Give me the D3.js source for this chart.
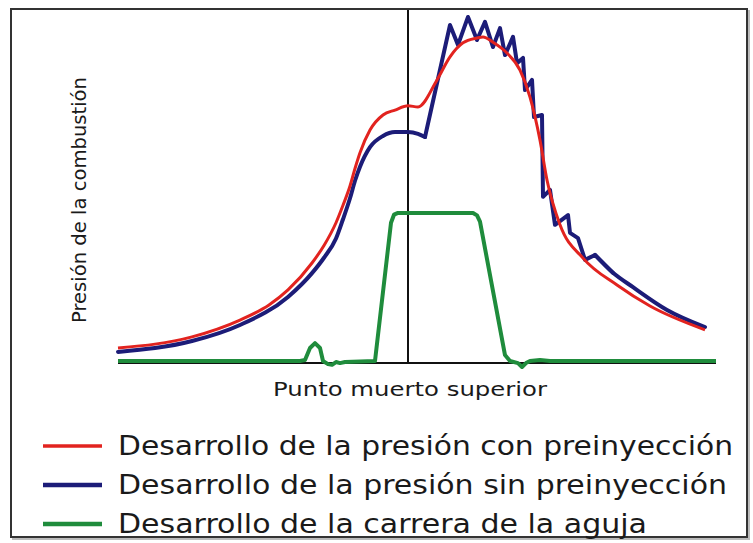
<!DOCTYPE html>
<html>
<head>
<meta charset="utf-8">
<script src="https://d3js.org/d3.v7.min.js"></script>
<style>
  body { margin: 0; background: #fff; }
  svg { display: block; }
  text { font-family: "DejaVu Sans", Verdana, sans-serif; fill: #1a1a1a; }
</style>
</head>
<body>
<div id="cont"></div>
<script>
// crank angle (deg, 0 = punto muerto superior) and relative values (0-100)
var anguloCon = [-58, -43.2, -33.6, -27.8, -24, -19.2, -16.8, -14.4, -13, -11.6, -10.6, -9.6, -7.6, -5, -2.6, 0, 2, 5.8, 8.4, 11, 13.8, 15, 17, 19.8, 22.4, 24.4, 26.4, 27.8, 30.4, 35, 41.8, 48.4, 59.4];
var presionCon = [3.7, 6.9, 11.7, 16, 20.3, 28, 33, 39.5, 44.5, 50, 55, 59.5, 66, 70.3, 71.7, 72.9, 72.6, 80.3, 86.9, 90.9, 92.3, 92.6, 91.1, 88, 83.1, 75.4, 63.1, 51.7, 38.9, 29.4, 21.7, 15.7, 8.9];

var anguloSin = [-58, -43.2, -33.6, -24, -19.2, -16.8, -14.4, -13, -11.6, -10.6, -9.6, -7.6, -5, -2.6, 0, 2, 3.4, 8.4, 10, 12, 13.8, 15.4, 17, 18.4, 19.4, 21, 21.8, 23, 23.4, 24.8, 25.2, 26.8, 27, 28.4, 29.4, 32, 32.4, 34, 35.4, 37.4, 41, 45, 51.8, 59.4];
var presionSin = [2.6, 5.7, 10.3, 18.3, 25.1, 29.5, 35, 40.5, 46.5, 51.5, 55.5, 61.1, 64.3, 65.4, 65.4, 64.9, 64, 96, 90.3, 98.3, 91.7, 96.9, 89.7, 95.1, 87.4, 92.6, 85.1, 86.6, 77.4, 80.3, 69.7, 70.3, 46.9, 48.9, 38.9, 41.7, 36.6, 35.1, 28.9, 30.3, 25.2, 21.1, 14.6, 9.7];
var finSuaveSin = 16; // index where the smooth part of the "sin" curve ends

var anguloAguja = [-58, -21.6, -20.6, -19.6, -18.6, -17.6, -17, -16, -15.2, -14.4, -13.6, -12.6, -6.6, -3.4, -2.8, -2, 13, 13.8, 14.4, 19.4, 20.4, 22, 22.8, 23.6, 24.4, 26.4, 28.4, 61.6];
var carrera = [0, 0, 0.3, 3.7, 5.1, 3.7, 0, -0.9, -1.1, -0.3, -0.6, -0.3, 0, 39.5, 41.8, 42.3, 42.3, 41.6, 39.8, 1.7, 0, -0.6, -1.7, -0.6, 0, 0.3, 0, 0];

var leyenda = [
  "Desarrollo de la presión con preinyección",
  "Desarrollo de la presión sin preinyección",
  "Desarrollo de la carrera de la aguja"
];
var colores = ["#e2231f", "#1c1c78", "#1f8c3c"];

var width = 753, height = 543;

var svg = d3.select("#cont").append("svg")
  .attr("width", width)
  .attr("height", height);

// frame with a soft shadow
svg.append("rect")
  .attr("x", 13).attr("y", 11)
  .attr("width", 736).attr("height", 528)
  .attr("fill", "none").attr("stroke", "#bbb").attr("stroke-width", 2);
svg.append("rect")
  .attr("x", 11).attr("y", 9)
  .attr("width", 736).attr("height", 528)
  .attr("fill", "#fff").attr("stroke", "#333").attr("stroke-width", 2);

var xScale = d3.scaleLinear().domain([-58, 61.6]).range([118, 716]),
  yScale = d3.scaleLinear().domain([0, 100]).range([361, 11]);

// baseline and TDC line
svg.append("line")
  .attr("x1", xScale(-58)).attr("x2", xScale(61.6))
  .attr("y1", yScale(0) + 2).attr("y2", yScale(0) + 2)
  .attr("stroke", "#111").attr("stroke-width", 2);
svg.append("line")
  .attr("x1", xScale(0)).attr("x2", xScale(0))
  .attr("y1", 10).attr("y2", yScale(0) + 3)
  .attr("stroke", "#111").attr("stroke-width", 2);

function pares(xs, ys) {
  return xs.map(function(d, i) { return [d, ys[i]]; });
}

var lineaSuave = d3.line()
  .x(function(d) { return xScale(d[0]); })
  .y(function(d) { return yScale(d[1]); })
  .curve(d3.curveMonotoneX);

var lineaRecta = d3.line()
  .x(function(d) { return xScale(d[0]); })
  .y(function(d) { return yScale(d[1]); });

svg.append("path")
  .datum(pares(anguloAguja, carrera))
  .attr("d", lineaRecta)
  .attr("fill", "none").attr("stroke", colores[2]).attr("stroke-width", 4)
  .attr("stroke-linejoin", "round");

// "sin" curve: smooth compression part, then jagged combustion part
var sin = pares(anguloSin, presionSin);
svg.append("path")
  .datum(sin.slice(0, finSuaveSin + 1))
  .attr("d", lineaSuave)
  .attr("fill", "none").attr("stroke", colores[1]).attr("stroke-width", 4)
  .attr("stroke-linecap", "round");
svg.append("path")
  .datum(sin.slice(finSuaveSin, sin.length - 3))
  .attr("d", lineaRecta)
  .attr("fill", "none").attr("stroke", colores[1]).attr("stroke-width", 4)
  .attr("stroke-linejoin", "round").attr("stroke-linecap", "round");
svg.append("path")
  .datum(sin.slice(sin.length - 5))
  .attr("d", lineaSuave)
  .attr("fill", "none").attr("stroke", colores[1]).attr("stroke-width", 4)
  .attr("stroke-linecap", "round");

svg.append("path")
  .datum(pares(anguloCon, presionCon))
  .attr("d", lineaSuave)
  .attr("fill", "none").attr("stroke", colores[0]).attr("stroke-width", 3)
  .attr("stroke-linejoin", "round");

// axis titles
svg.append("text")
  .attr("transform", "translate(86,200) rotate(-90)")
  .attr("text-anchor", "middle")
  .attr("font-size", 19)
  .attr("textLength", 246).attr("lengthAdjust", "spacingAndGlyphs")
  .text("Presión de la combustión");

svg.append("text")
  .attr("x", 410).attr("y", 396)
  .attr("text-anchor", "middle")
  .attr("font-size", 20)
  .attr("textLength", 274).attr("lengthAdjust", "spacingAndGlyphs")
  .text("Punto muerto superior");

// legend
var anchos = [615, 609, 529];
var leg = svg.selectAll(".leg")
  .data(leyenda)
  .enter().append("g")
  .attr("class", "leg")
  .attr("transform", function(d, i) { return "translate(0," + (455 + i * 39) + ")"; });

leg.append("line")
  .attr("x1", 43).attr("x2", 102)
  .attr("y1", -9).attr("y2", -9)
  .attr("stroke", function(d, i) { return colores[i]; })
  .attr("stroke-width", function(d, i) { return i == 0 ? 3.5 : 4.5; });

leg.append("text")
  .attr("x", 118)
  .attr("font-size", 26)
  .attr("textLength", function(d, i) { return anchos[i]; })
  .attr("lengthAdjust", "spacingAndGlyphs")
  .text(function(d) { return d; });
</script>
</body>
</html>
